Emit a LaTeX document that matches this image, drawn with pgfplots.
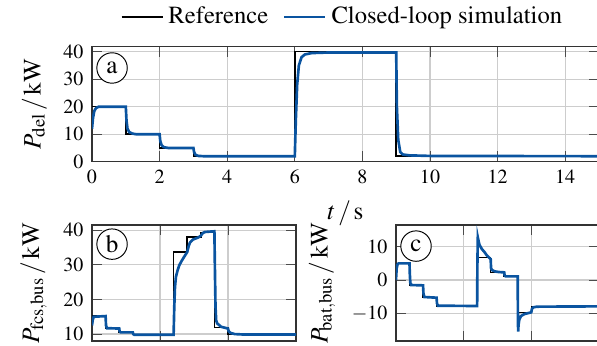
\documentclass[border=0pt]{standalone}
\usepackage[T1]{fontenc}
\usepackage{mathptmx}
\usepackage{pgfplots}
\pgfplotsset{compat=1.18}
\definecolor{simblue}{RGB}{10,84,160}
\definecolor{gridgray}{RGB}{205,205,205}
\pgfplotsset{
  myax/.style={
    scale only axis,
    grid=major,
    major grid style={gridgray, line width=0.5pt},
    axis line style={black!80, line width=0.6pt},
    tick style={black!70, line width=0.4pt},
    tick label style={font=\fontsize{8.3}{9}\selectfont},
    label style={font=\fontsize{10.4}{12}\selectfont},
    xmin=0, xmax=15,
    clip=true,
  },
  refl/.style={black, line width=0.6pt},
  siml/.style={simblue, line width=1.1pt},
}
\begin{document}
\begin{tikzpicture}
% Panel a
\begin{axis}[myax,
  at={(38.09pt,-66.94pt)}, anchor=south west,
  width=209.9pt, height=47.6pt,
  ymin=0, ymax=41.8,
  xtick={0,2,...,14}, ytick={0,10,20,30,40},
  xlabel={$t\,/\,\mathrm{s}$},
  ylabel={$P_{\mathrm{del}}\,/\,\mathrm{kW}$},
  legend columns=2,
  legend style={draw=none, fill=none, font=\fontsize{10.2}{12}\selectfont,
    at={(rel axis cs:0.497,1.26)}, anchor=center,
    /tikz/every even column/.append style={column sep=4pt}},
]
\addplot[refl] coordinates {(0,20)(1,20)(1,10)(2,10)(2,5)(3,5)(3,2)(6,2)(6,40)(9,40)(9,2)(15,2)};
\addlegendentry{Reference}
\addplot[siml] coordinates {(0,12)(0.03,16)(0.07,18.5)(0.12,19.5)(0.2,20)(1.0,20)(1.02,15)(1.05,12)(1.1,10.8)(1.2,10.2)(1.3,10)(2.0,10)(2.02,7.5)(2.06,6)(2.12,5.3)(2.25,5)(3.0,5)(3.02,3.5)(3.06,2.5)(3.15,2.1)(3.3,2)(6.0,2)(6.03,15)(6.07,28)(6.12,35)(6.2,38)(6.3,39)(6.5,39.5)(7,39.7)(9.0,39.7)(9.02,20)(9.06,8)(9.12,3.5)(9.2,2.6)(9.4,2.3)(10,2.1)(15,2)};
\addlegendentry{Closed-loop simulation}
\node[draw, circle, fill=white, minimum size=12.6pt, inner sep=0pt, font=\fontsize{10.4}{12}\selectfont] at ([xshift=8.3pt,yshift=-8.8pt]rel axis cs:0,1) {a};
\end{axis}
% Panel b
\begin{axis}[myax,
  at={(38.09pt,-141.17pt)}, anchor=south west,
  width=84.46pt, height=48.0pt,
  ymin=8, ymax=41.5,
  xtick={0,5,10,15}, xticklabels={}, ytick={10,20,30,40},
  ylabel={$P_{\mathrm{fcs,bus}}\,/\,\mathrm{kW}$},
]
\addplot[refl] coordinates {(0,15.2)(1,15.2)(1,11.6)(2,11.6)(2,10.5)(3,10.5)(3,9.8)(6,9.8)(6,33.7)(7,33.7)(7,38)(8,38)(8,39.4)(9,39.4)(9,11.9)(10,11.9)(10,9.9)(15,9.9)};
\addplot[siml] coordinates {(0,12.5)(0.05,14)(0.12,15)(1,15.2)(1.03,12.5)(1.1,11.7)(2,11.6)(2.03,10.8)(2.1,10.5)(3,10.5)(3.03,10)(3.1,9.8)(6,9.8)(6.05,18)(6.1,23.5)(6.17,26.5)(6.3,28.5)(6.42,29.9)(6.6,31.2)(6.74,32.1)(7.0,33.7)(7.1,35.3)(7.2,36.4)(7.42,37.3)(7.8,37.9)(8.0,38.4)(8.15,39.2)(8.3,39.5)(9.0,39.7)(9.04,28)(9.08,18)(9.13,14)(9.2,13.1)(9.5,12.1)(10.0,11.6)(10.05,10.8)(10.2,10.3)(10.5,10.0)(11,9.9)(15,9.9)};
\node[draw, circle, fill=white, minimum size=12.6pt, inner sep=0pt, font=\fontsize{10.4}{12}\selectfont] at ([xshift=8.3pt,yshift=-7.9pt]rel axis cs:0,1) {b};
\end{axis}
% Panel c
\begin{axis}[myax,
  at={(163.94pt,-141.17pt)}, anchor=south west,
  width=84.0pt, height=48.0pt,
  ymin=-18.3, ymax=16.5,
  xtick={0,5,10,15}, xticklabels={}, ytick={-10,0,10},
  ylabel={$P_{\mathrm{bat,bus}}\,/\,\mathrm{kW}$},
]
\addplot[refl] coordinates {(0,5)(1,5)(1,-1.6)(2,-1.6)(2,-5.3)(3,-5.3)(3,-7.8)(6,-7.8)(6,6.8)(7,6.8)(7,2.2)(8,2.2)(8,1.1)(9,1.1)(9,-9.8)(10,-9.8)(10,-7.9)(15,-7.9)};
\addplot[siml] coordinates {(0,0)(0.05,3.5)(0.12,4.8)(0.2,5)(1,5)(1.02,2)(1.06,-0.8)(1.12,-1.5)(2,-1.6)(2.03,-4)(2.1,-5.1)(3,-5.3)(3.03,-7)(3.1,-7.7)(6,-7.8)(6.02,5)(6.05,12.8)(6.1,11.8)(6.18,10.5)(6.35,9.3)(6.54,8.4)(6.7,7.5)(6.86,6.8)(7,6.3)(7.03,3.5)(7.1,3.0)(7.3,2.6)(7.6,2.4)(8,2.3)(8.03,1.4)(8.1,1.1)(9,1.1)(9.01,-8)(9.03,-15.5)(9.06,-13.5)(9.12,-11.8)(9.25,-10.8)(9.5,-10.2)(10,-9.7)(10.05,-8.7)(10.15,-8.2)(10.4,-8.0)(15,-7.9)};
\node[draw, circle, fill=white, minimum size=12.6pt, inner sep=0pt, font=\fontsize{10.4}{12}\selectfont] at ([xshift=8.3pt,yshift=-8.7pt]rel axis cs:0,1) {c};
\end{axis}
\pgfresetboundingbox
\useasboundingbox (0pt,0pt) rectangle (247.16pt,-142.83pt);
\end{tikzpicture}
\end{document}
